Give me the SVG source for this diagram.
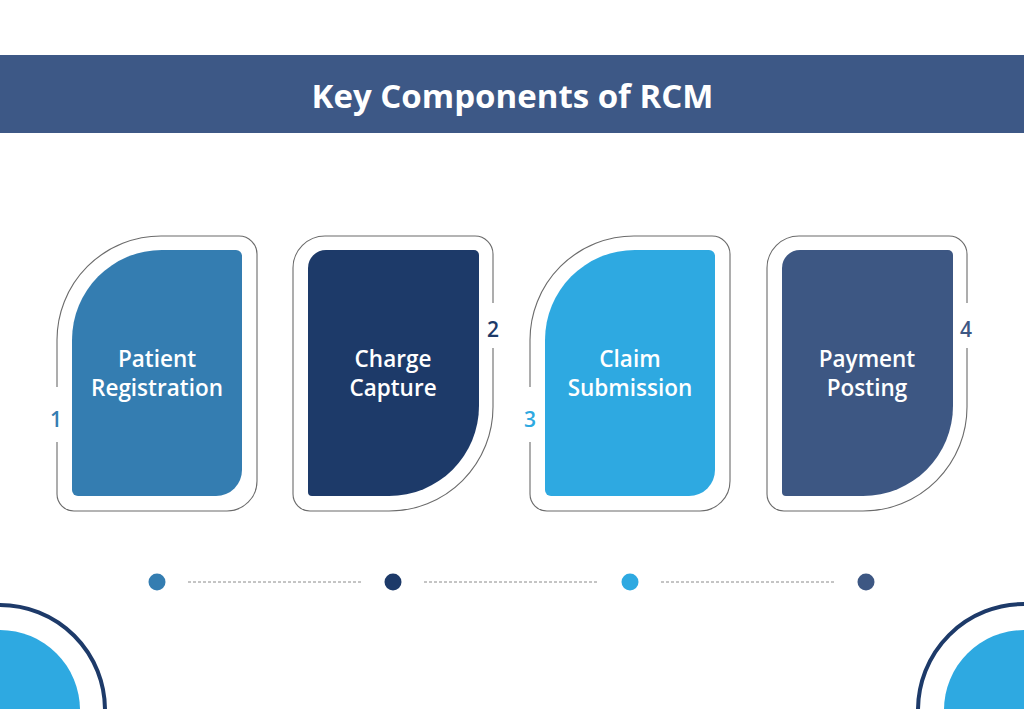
<svg xmlns="http://www.w3.org/2000/svg" width="1024" height="709" viewBox="0 0 1024 709">
<style>
.outline{fill:#fff;stroke:#6b6b6b;stroke-width:1.1}
.mask{fill:#fff}
.lbl{font-family:"Open Sans","Noto Sans",sans-serif;font-size:22.5px;font-weight:600;fill:#fff;text-anchor:middle}
.num{font-family:"Open Sans","Noto Sans",sans-serif;font-size:21px;font-weight:600;text-anchor:middle}
.title{font-family:"Open Sans","Noto Sans",sans-serif;font-size:33px;font-weight:700;fill:#fff;text-anchor:middle}
.dash{stroke:#8a8a8a;stroke-width:1;stroke-dasharray:3 2;fill:none}
.c1{fill:#347db1}.c2{fill:#1d3a69}.c3{fill:#2ea9e1}.c4{fill:#3d5783}
</style>
<defs>
<path id="outerA" d="M0,104 A104,104 0 0 1 104,0 H182 A18,18 0 0 1 200,18 V245 A30,30 0 0 1 170,275 H17 A17,17 0 0 1 0,258 Z"/>
<path id="innerA" d="M15,104 A90,90 0 0 1 105,14 H179 A6,6 0 0 1 185,20 V234 A26,26 0 0 1 159,260 H21 A6,6 0 0 1 15,254 Z"/>
<path id="outerB" d="M0,32 A32,32 0 0 1 32,0 H182 A18,18 0 0 1 200,18 V171 A104,104 0 0 1 96,275 H17 A17,17 0 0 1 0,258 Z"/>
<path id="innerB" d="M15,32 A18,18 0 0 1 33,14 H181 A5,5 0 0 1 186,19 V170 A90,90 0 0 1 96,260 H19 A4,4 0 0 1 15,256 Z"/>
</defs>
<rect width="1024" height="709" fill="#fff"/>
<g id="header">
<rect x="0" y="55" width="1024" height="78" fill="#3d5886"/>
<text class="title" x="512.5" y="108">Key Components of RCM</text>
</g>
<g id="card1" transform="translate(57,236)">
<use href="#outerA" class="outline"/>
<rect class="mask" x="-7" y="151" width="14" height="55"/>
<use href="#innerA" class="c1"/>
<text class="lbl" x="100" y="131">Patient</text>
<text class="lbl" x="100" y="160">Registration</text>
<text class="num c1" x="-1" y="191">1</text>
</g>
<g id="card2" transform="translate(293,236)">
<use href="#outerB" class="outline"/>
<rect class="mask" x="193" y="67" width="14" height="45"/>
<use href="#innerB" class="c2"/>
<text class="lbl" x="100" y="131">Charge</text>
<text class="lbl" x="100" y="160">Capture</text>
<text class="num c2" x="200" y="101">2</text>
</g>
<g id="card3" transform="translate(530,236)">
<use href="#outerA" class="outline"/>
<rect class="mask" x="-7" y="151" width="14" height="55"/>
<use href="#innerA" class="c3"/>
<text class="lbl" x="100" y="131">Claim</text>
<text class="lbl" x="100" y="160">Submission</text>
<text class="num c3" x="0" y="191">3</text>
</g>
<g id="card4" transform="translate(767,236)">
<use href="#outerB" class="outline"/>
<rect class="mask" x="193" y="67" width="14" height="45"/>
<use href="#innerB" class="c4"/>
<text class="lbl" x="100" y="131">Payment</text>
<text class="lbl" x="100" y="160">Posting</text>
<text class="num c4" x="199" y="101">4</text>
</g>
<g id="timeline">
<circle class="c1" cx="157" cy="582" r="8.5"/>
<circle class="c2" cx="393" cy="582" r="8.5"/>
<circle class="c3" cx="630" cy="582" r="8.5"/>
<circle class="c4" cx="866" cy="582" r="8.5"/>
</g>
<g id="connectors">
<line class="dash" x1="188" y1="582" x2="362" y2="582"/>
<line class="dash" x1="424" y1="582" x2="598" y2="582"/>
<line class="dash" x1="661" y1="582" x2="835" y2="582"/>
</g>
<g id="decor">
<circle cx="0" cy="710" r="80" fill="#2ea9e1"/>
<circle cx="0" cy="710" r="105" fill="none" stroke="#1d3a69" stroke-width="4"/>
<circle cx="1024" cy="710" r="80" fill="#2ea9e1"/>
<circle cx="1024" cy="710" r="106" fill="none" stroke="#1d3a69" stroke-width="4"/>
</g>
</svg>
